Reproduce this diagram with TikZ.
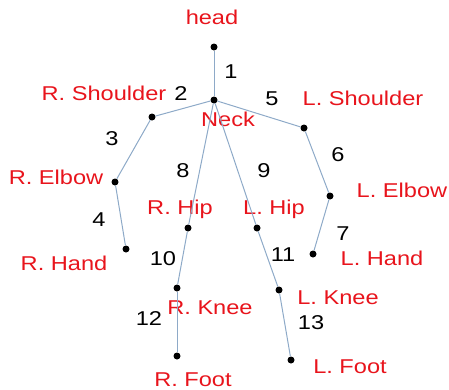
\documentclass[tikz,border=0pt]{standalone}
\usepackage{fontspec}
\setmainfont{Liberation Sans}[FakeStretch=1.18]
\usetikzlibrary{positioning}
\definecolor{colorbone}{HTML}{8EAAC8}
\definecolor{colorlabel}{HTML}{E8141C}

\begin{document}
\begin{tikzpicture}[
    x=1pt, y=-1pt,
    % skeleton joints
    joint/.style={
        circle,
        fill=black,
        inner sep=0pt,
        minimum size=7pt
    },
    % joint names
    jname/.style={
        text=colorlabel,
        inner sep=0pt,
        text height=14.3pt,
        text depth=0pt,
        font=\fontsize{20}{22}\selectfont
    },
    % bone numbers
    bnum/.style={
        jname,
        text=black
    },
    bone/.style={
        colorbone,
        line width=1pt
    }
]
\useasboundingbox (0,0) rectangle (449,389);

% ==============================
% Joints
% ==============================
\node[joint] (head) at (214,47) {};
\node[joint] (neck) at (214,100) {};
\node[joint] (rshoulder) at (152,117) {};
\node[joint] (lshoulder) at (304,128) {};
\node[joint] (relbow) at (115,182) {};
\node[joint] (lelbow) at (330,196) {};
\node[joint] (rhand) at (126,249) {};
\node[joint] (lhand) at (313,254) {};
\node[joint] (rhip) at (188,228) {};
\node[joint] (lhip) at (257,228) {};
\node[joint] (rknee) at (177,288) {};
\node[joint] (lknee) at (279,290) {};
\node[joint] (rfoot) at (177,356) {};
\node[joint] (lfoot) at (291,360) {};

% ==============================
% Joint names
% ==============================
\node[jname] (headtext) at (212,17) {head};
\node[jname] (necktext) at (228,119) {Neck};
\node[jname] (rshouldertext) at (104,93) {R. Shoulder};
\node[jname] (lshouldertext) at (363,98) {L. Shoulder};
\node[jname] (relbowtext) at (56,177) {R. Elbow};
\node[jname] (lelbowtext) at (402,190) {L. Elbow};
\node[jname] (rhiptext) at (180,207) {R. Hip};
\node[jname] (lhiptext) at (274,207) {L. Hip};
\node[jname] (rhandtext) at (64,263) {R. Hand};
\node[jname] (lhandtext) at (382,258) {L. Hand};
\node[jname] (rkneetext) at (210,307) {R. Knee};
\node[jname] (lkneetext) at (338,297) {L. Knee};
\node[jname] (rfoottext) at (193,379) {R. Foot};
\node[jname] (lfoottext) at (350,366) {L. Foot};

% ==============================
% Bones
% ==============================
\draw[bone] (head) -- (neck);
\draw[bone] (neck) -- (rshoulder);
\draw[bone] (rshoulder) -- (relbow);
\draw[bone] (relbow) -- (rhand);
\draw[bone] (neck) -- (lshoulder);
\draw[bone] (lshoulder) -- (lelbow);
\draw[bone] (lelbow) -- (lhand);
\draw[bone] (neck) -- (rhip);
\draw[bone] (neck) -- (lhip);
\draw[bone] (rhip) -- (rknee);
\draw[bone] (lhip) -- (lknee);
\draw[bone] (rknee) -- (rfoot);
\draw[bone] (lknee) -- (lfoot);

% ==============================
% Bone numbers
% ==============================
\node[bnum] (num1) at (231,71) {1};
\node[bnum] (num2) at (181,93) {2};
\node[bnum] (num3) at (112,138) {3};
\node[bnum] (num4) at (99,219) {4};
\node[bnum] (num5) at (272,98) {5};
\node[bnum] (num6) at (338,154) {6};
\node[bnum] (num7) at (343,233) {7};
\node[bnum] (num8) at (183,170) {8};
\node[bnum] (num9) at (264,170) {9};
\node[bnum] (num10) at (163,258) {10};
\node[bnum] (num11) at (283,254) {11};
\node[bnum] (num12) at (149,318) {12};
\node[bnum] (num13) at (311,322) {13};

\end{tikzpicture}
\end{document}
